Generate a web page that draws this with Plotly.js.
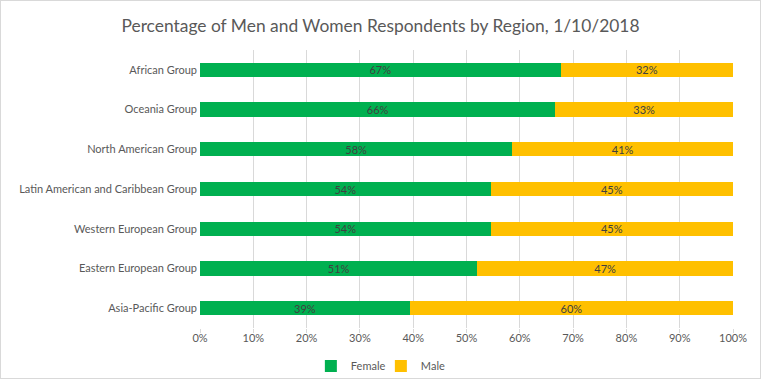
<!DOCTYPE html>
<html>
<head>
<meta charset="utf-8">
<script src="https://cdn.plot.ly/plotly-3.0.1.min.js"></script>
<style>
html,body{margin:0;padding:0;background:#fff;}
#chart{width:761px;height:379px;box-sizing:border-box;border:1px solid #d9d9d9;}
</style>
</head>
<body>
<div id="chart"></div>
<script>
const regions = ["African Group","Oceania Group","North American Group","Latin American and Caribbean Group","Western European Group","Eastern European Group","Asia-Pacific Group"];
const female = [67,66,58,54,54,51,39];
const male = [32,33,41,45,45,47,60];
const xTicks = [0,10,20,30,40,50,60,70,80,90,100];

const labelFont = {family:"Lato, 'Open Sans', sans-serif", size:11, color:"#404040"};
const traces = [
  {type:"bar", orientation:"h", name:"Female", y:regions, x:female,
   marker:{color:"#00B050"}, text:female.map(v=>v+"%"), texttemplate:"%{text}",
   textposition:"inside", insidetextanchor:"middle", insidetextfont:labelFont,
   constraintext:"none", width:0.36},
  {type:"bar", orientation:"h", name:"Male", y:regions, x:male,
   marker:{color:"#FFC000"}, text:male.map(v=>v+"%"), texttemplate:"%{text}",
   textposition:"inside", insidetextanchor:"middle", insidetextfont:labelFont,
   constraintext:"none", width:0.36}
];
const layout = {
  width:759, height:377,
  margin:{l:199, r:27, t:49, b:50, autoexpand:false},
  paper_bgcolor:"#fff", plot_bgcolor:"#fff",
  barmode:"stack", barnorm:"percent",
  font:{family:"Lato, 'Open Sans', sans-serif", color:"#595959", size:11},
  title:{text:"Percentage of Men and Women Respondents by Region, 1/10/2018",
         font:{family:"Lato, 'Open Sans', sans-serif", size:17.4, color:"#595959"},
         x:0.5, xanchor:"center", y:0.934, yanchor:"middle"},
  xaxis:{range:[0,100], tickvals:xTicks, ticktext:xTicks.map(v=>v+"%"),
         showgrid:true, gridcolor:"#d9d9d9", gridwidth:1, zeroline:false,
         ticks:"outside", ticklen:4, tickcolor:"#d9d9d9", ticklabelstandoff:-4,
         tickfont:{size:11, color:"#595959"}, fixedrange:true},
  yaxis:{autorange:"reversed", showgrid:false, zeroline:false, ticks:"",
         ticklabelstandoff:2, tickfont:{size:11, color:"#595959"}},
  legend:{orientation:"h", x:0.208, xanchor:"left", xref:"paper",
          y:0.032, yanchor:"middle", yref:"container",
          font:{size:11, color:"#595959"}, itemwidth:30, entrywidth:25, traceorder:"normal"},
  showlegend:true
};
Plotly.newPlot("chart", traces, layout, {displayModeBar:false, staticPlot:true});
</script>
</body>
</html>
